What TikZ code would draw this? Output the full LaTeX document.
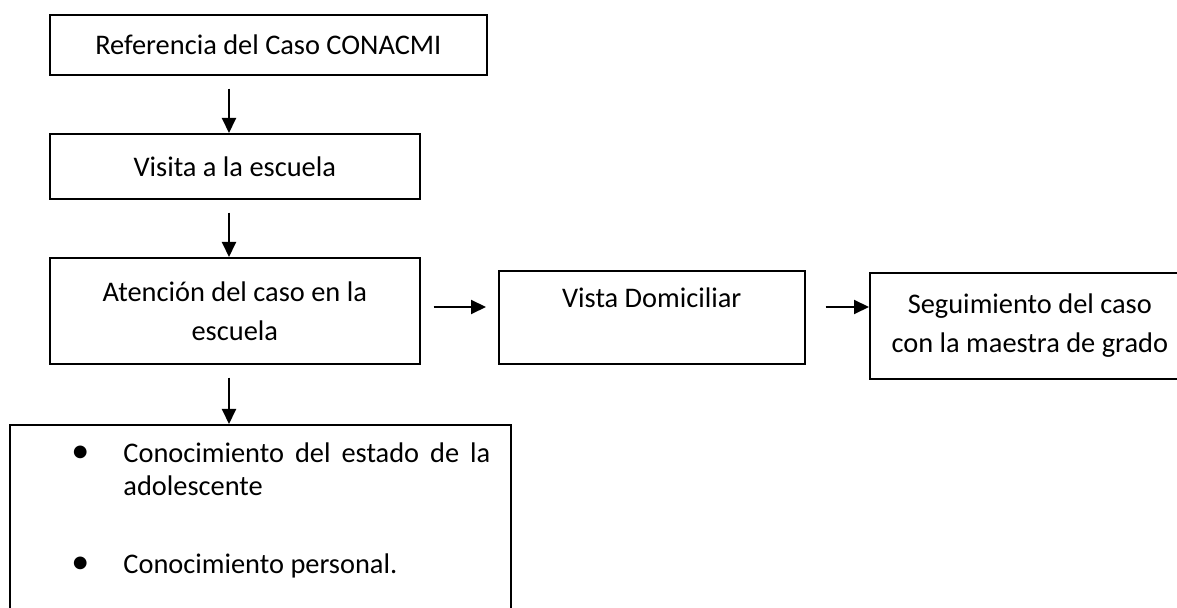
\documentclass[tikz,border=0pt]{standalone}
\usepackage{fontspec}
\setmainfont{Carlito}
\usepackage{tikz}
\usetikzlibrary{arrows.meta}

\begin{document}
\begin{tikzpicture}[x=0.5pt,y=-0.5pt]
  \tikzset{box/.style = {draw,line width=0.8pt,anchor=north west,align=center,inner sep=0pt,
      font=\fontsize{14.2}{19.5}\selectfont}}
  \tikzset{flow/.style = {-{Triangle[length=7.5pt,width=7pt]},line width=1pt,shorten <=6.5pt}}
  \newcommand{\itembullet}{\leavevmode\llap{\makebox[0pt]{\fontsize{18}{18}\selectfont\textbullet}\hspace{21.5pt}}}

  \useasboundingbox (0,0) rectangle (1177,608);

	\node[box,minimum width=437*0.5pt,minimum height=60*0.5pt] (ref) at (49,14) {Referencia del Caso CONACMI};
	\node[box,minimum width=370*0.5pt,minimum height=65*0.5pt] (vis) at (49,133) {Visita a la escuela};
	\node[box,minimum width=370*0.5pt,minimum height=106*0.5pt] (aten) at (49,257) {Atención del caso en la\\escuela};
	\node[box,minimum width=306*0.5pt,minimum height=93*0.5pt] (dom) at (498,270) {Vista Domiciliar\\\mbox{}};
	\node[box,minimum width=320*0.5pt,minimum height=106*0.5pt] (seg) at (869,272) {Seguimiento del caso\\con la maestra de grado};
	\node[box,minimum width=501*0.5pt,minimum height=230*0.5pt] (conoc) at (9,424) {};
	\node[anchor=base west,inner sep=0pt,text width=367*0.5pt,align=justify,
	      font=\fontsize{14.2}{16.5}\selectfont] (items) at (123,463)
	  {\hyphenpenalty=10000\itembullet Conocimiento del estado de la adolescente\par\vspace{22pt}
	   \itembullet Conocimiento personal.};

	\coordinate (axis) at (229,0);
	\coordinate (row) at (0,307);

       \foreach \from/\to in {ref/vis, vis/aten, aten/conoc}
    \draw[flow] (\from.south -| axis) -- (\to.north -| axis);
	\draw[flow,shorten >=6pt] (aten.east |- row) -- (dom.west |- row);
	\draw[flow,shorten <=10pt] (dom.east |- row) -- (seg.west |- row);
\end{tikzpicture}
\end{document}
